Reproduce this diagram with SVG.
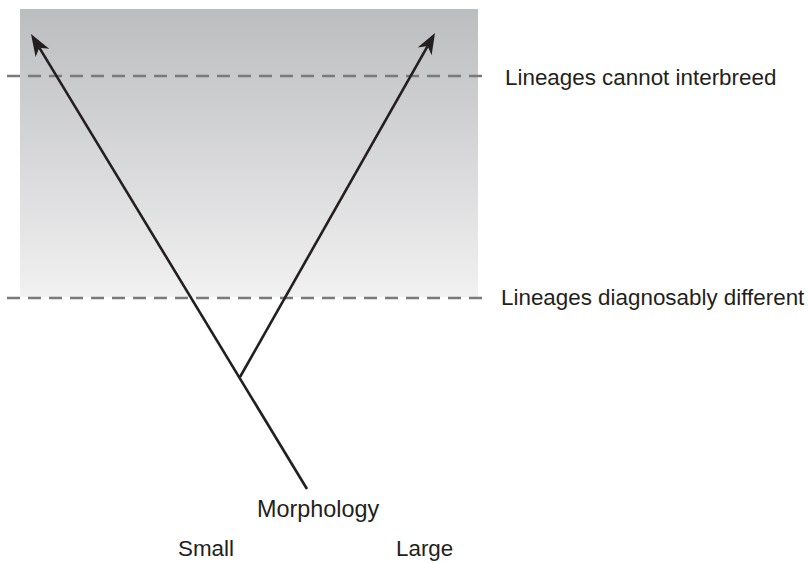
<svg xmlns="http://www.w3.org/2000/svg" width="808" height="563" viewBox="0 0 808 563">
  <defs>
    <linearGradient id="bg" x1="0" y1="0" x2="0" y2="1">
      <stop offset="0" stop-color="#bcbdbf"/>
      <stop offset="1" stop-color="#f1f1f2"/>
    </linearGradient>
    <style>
      .dash { stroke: #7a7a7b; stroke-width: 2.6; stroke-dasharray: 13 8; fill: none; }
      .branch { stroke: #231f20; stroke-width: 2.6; fill: none; stroke-linecap: butt; }
      .head { fill: #231f20; }
      .lbl { font-family: "Liberation Sans", Arial, sans-serif; font-size: 22.4px; fill: #231f20; }
    </style>
  </defs>
  <rect width="808" height="563" fill="#ffffff"/>
  <g id="background">
    <rect x="20" y="9" width="458" height="288" fill="url(#bg)"/>
  </g>
  <g id="thresholds">
    <line class="dash" x1="7" y1="76" x2="490" y2="76"/>
    <line class="dash" x1="7" y1="298" x2="490" y2="298"/>
  </g>
  <g id="connectors">
    <line class="branch" x1="307" y1="489" x2="39.3" y2="47.7"/>
    <line class="branch" x1="240" y1="377" x2="427.6" y2="46.1"/>
    <polygon class="head" points="31,34 49.2,48.7 39.3,47.7 35.6,56.9"/>
    <polygon class="head" points="435,33 431.6,55.2 427.6,46.1 417.7,47.4"/>
  </g>
  <g id="label-interbreed">
    <text class="lbl" x="505" y="85">Lineages cannot interbreed</text>
  </g>
  <g id="label-diagnosable">
    <text class="lbl" x="501" y="305">Lineages diagnosably different</text>
  </g>
  <g id="label-morphology">
    <text class="lbl" x="257" y="517" style="font-size:23.4px">Morphology</text>
  </g>
  <g id="label-small">
    <text class="lbl" x="178" y="556">Small</text>
  </g>
  <g id="label-large">
    <text class="lbl" x="396" y="556">Large</text>
  </g>
</svg>
